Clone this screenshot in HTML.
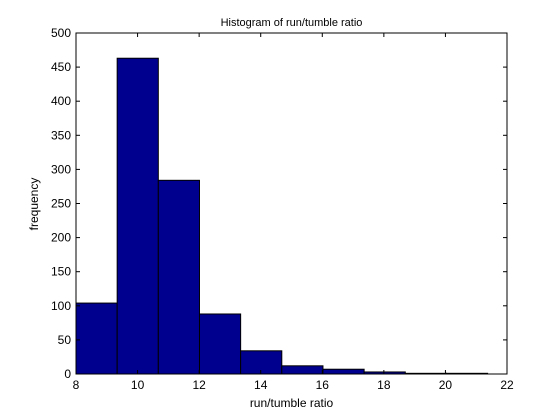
<!DOCTYPE html>
<html><head><meta charset="utf-8"><style>
body{margin:0;background:#fff;}
svg{display:block;font-family:"Liberation Sans",sans-serif;}
</style></head><body>
<svg id="chart" width="560" height="420">
<rect width="560" height="420" fill="#fff"/>
</svg>
<script>
const counts=[104,463,284,88,34,12,7,3,1,1];
const binStart=8.0;
const binWidth=1.337;
const xTicks=[8,10,12,14,16,18,20,22];
const yTicks=[0,50,100,150,200,250,300,350,400,450,500];
const L=76,R=507,T=33,B=374;
const xs=v=>L+(v-8)/14*(R-L);
const ys=v=>B-v/500*(B-T);
const svg=document.getElementById('chart');
const NS='http://www.w3.org/2000/svg';
function mk(tag,attrs,parent){const e=document.createElementNS(NS,tag);for(const k in attrs)e.setAttribute(k,attrs[k]);(parent||svg).appendChild(e);return e;}
const bars=mk('g',{});


counts.forEach((c,i)=>{
 const x0=xs(binStart+i*binWidth),x1=xs(binStart+(i+1)*binWidth);
 const r=mk('rect',{x:x0,y:ys(c),width:x1-x0,height:B-ys(c),fill:'#00008f',stroke:'#000','stroke-width':1},bars);
 
 
});
const ax=mk('rect',{x:L,y:T,width:R-L,height:B-T,fill:'none',stroke:'#000','stroke-width':1});


xTicks.forEach(t=>{
 const x=xs(t);
 mk('line',{x1:x,x2:x,y1:B,y2:B-4,stroke:'#000'});
 mk('line',{x1:x,x2:x,y1:T,y2:T+4,stroke:'#000'});
 const tx=mk('text',{x:x,y:B+15,'text-anchor':'middle','font-size':12});
 tx.textContent=t;
 
 
});
yTicks.forEach(t=>{
 const y=ys(t);
 mk('line',{x1:L,x2:L+4,y1:y,y2:y,stroke:'#000'});
 mk('line',{x1:R,x2:R-4,y1:y,y2:y,stroke:'#000'});
 const tx=mk('text',{x:L-5,y:y+4,'text-anchor':'end','font-size':12});
 tx.textContent=t;
 
 
});
const title=mk('text',{x:(L+R)/2,y:26,'text-anchor':'middle','font-size':11});
title.textContent='Histogram of run/tumble ratio';


const xl=mk('text',{x:(L+R)/2,y:407,'text-anchor':'middle','font-size':12});
xl.textContent='run/tumble ratio';


const yl=mk('text',{x:0,y:0,'text-anchor':'middle','font-size':12,transform:'translate(38,204) rotate(-90)'});
yl.textContent='frequency';


</script>
</body></html>
